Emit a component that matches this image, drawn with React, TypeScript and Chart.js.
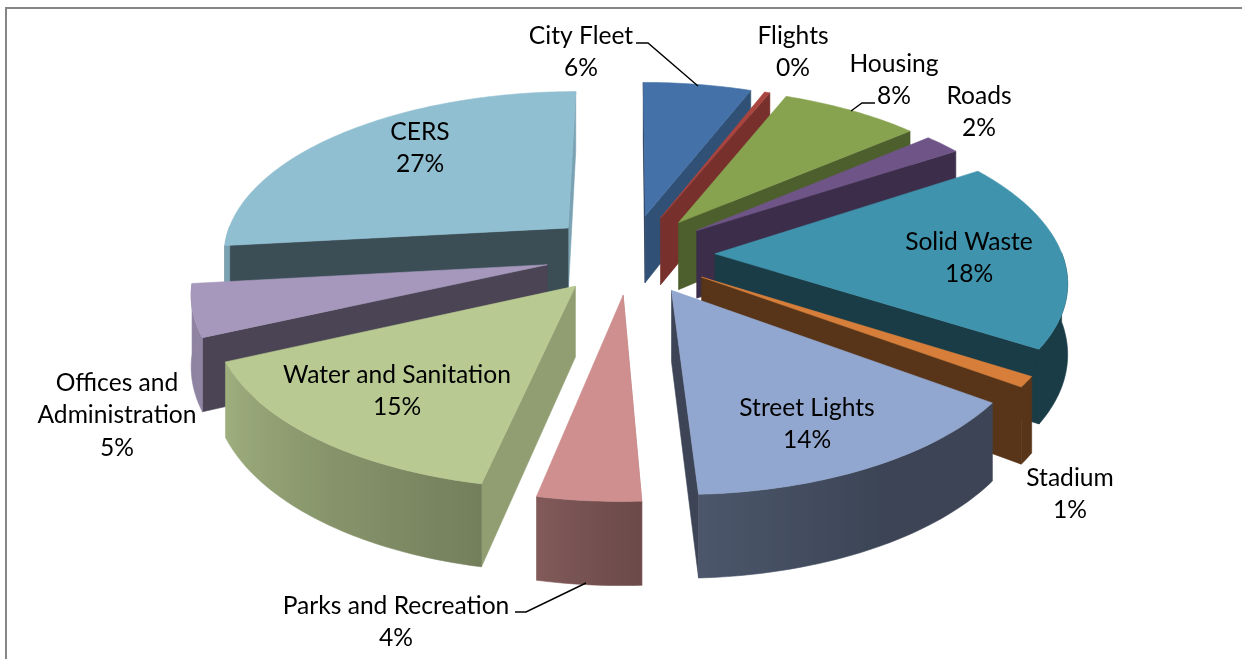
import React, { useEffect, useRef } from "react";
import { Chart, registerables } from "chart.js";

Chart.register(...registerables);

const categories = ["City Fleet", "Flights", "Housing", "Roads", "Solid Waste", "Stadium", "Street Lights", "Parks and Recreation", "Water and Sanitation", "Offices and Administration", "CERS"];
const shares = [5.9, 0.3, 7.6, 2, 18.3, 1, 14.2, 4, 15, 5, 26.8];
const sliceColors = ["#4471a7", "#a9443f", "#87a34f", "#6f5488", "#3f93ac", "#d77f3a", "#92a7cf", "#ce8f8e", "#b8ca92", "#a698bc", "#91bfd2"];
const explode = [85, 85, 85, 85, 85, 85, 85, 85, 85, 85, 85];
const labelLines = [["City Fleet"], ["Flights"], ["Housing"], ["Roads"], ["Solid Waste"], ["Stadium"], ["Street Lights"], ["Parks and Recreation"], ["Water and Sanitation"], ["Offices and", "Administration"], ["CERS"]];
const labelCentres = [[581, 36], [793, 36], [894, 64], [979, 96], [969, 242], [1070, 478], [807, 408], [396, 606], [397, 375], [117, 383], [420, 132]];
const leaderLines = [
  [[636, 43], [648, 43], [698, 86]],
  [[875, 103], [862, 103], [851, 111]],
  [[515, 612], [526, 612], [586, 583]],
];

const CX = 630, CY = 254, K = 0.47, D = 2400, R = 347, H = 69;
const FONT = '24.6px Lato, "Open Sans", sans-serif';
const LINE = 32.5;

const project = (u: number, v: number, z: number): [number, number] => {
  const s = 1 / (1 - v / D);
  return [CX + u * s, CY + (v * K + z) * s];
};

const lookup = (table: number[][], x: number) => {
  if (x <= table[0][0]) return table[0][1];
  for (let i = 1; i < table.length; i++) {
    if (x <= table[i][0]) {
      const t = (x - table[i - 1][0]) / (table[i][0] - table[i - 1][0]);
      return table[i - 1][1] + t * (table[i][1] - table[i - 1][1]);
    }
  }
  return table[table.length - 1][1];
};
const flatShade = [[90, 0.85], [102, 0.78], [111, 0.71], [142, 0.57], [149, 0.53], [157, 0.43], [173, 0.41], [270, 0.41]];
const curvedShade = [[90, 0.41], [150, 0.41], [178, 0.52], [192, 0.63], [247, 0.87], [263, 0.85], [360, 0.85]];

const shade = (hex: string, f: number) => {
  const n = parseInt(hex.slice(1), 16);
  return `rgb(${Math.round(((n >> 16) & 255) * f)},${Math.round(((n >> 8) & 255) * f)},${Math.round((n & 255) * f)})`;
};
const norm = (deg: number) => ((deg % 360) + 360) % 360;

const fillPoly = (ctx: CanvasRenderingContext2D, pts: [number, number][], color: any) => {
  ctx.beginPath();
  pts.forEach((p, i) => (i ? ctx.lineTo(p[0], p[1]) : ctx.moveTo(p[0], p[1])));
  ctx.closePath();
  ctx.fillStyle = color;
  ctx.strokeStyle = color;
  ctx.lineWidth = 0.6;
  ctx.fill();
  ctx.stroke();
};

const pie3d = {
  id: "pie3d",
  beforeDatasetDraw(chart: any) {
    const ctx: CanvasRenderingContext2D = chart.ctx;
    const arcs = chart.getDatasetMeta(0).data;
    const slices = arcs.map((el: any, i: number) => {
      const a0 = el.startAngle, a1 = el.endAngle, mid = (a0 + a1) / 2;
      const off = el.options.offset;
      return { i, a0, a1, mid, tu: off * Math.cos(mid), tv: off * Math.sin(mid) };
    });
    slices.sort((p: any, q: any) => p.tv - q.tv);
    for (const s of slices) {
      const color = sliceColors[s.i];
      const pt = (a: number, z: number) => project(s.tu + R * Math.cos(a), s.tv + R * Math.sin(a), z);
      const tip = (z: number) => project(s.tu, s.tv, z);
      const steps = Math.max(2, Math.ceil(((s.a1 - s.a0) * 180) / Math.PI));
      const angles: number[] = [];
      for (let k = 0; k <= steps; k++) angles.push(s.a0 + ((s.a1 - s.a0) * k) / steps);

      const flatWalls: { v: number; draw: () => void }[] = [];
      for (const [edge, dir] of [[s.a0, -1], [s.a1, 1]] as [number, number][]) {
        const normalDeg = norm((edge * 180) / Math.PI + 90 + dir * 90);
        if (Math.sin(edge + (dir * Math.PI) / 2) <= -0.05) continue;
        flatWalls.push({
          v: s.tv + (R / 2) * Math.sin(edge),
          draw: () => fillPoly(ctx, [tip(0), pt(edge, 0), pt(edge, H), tip(H)], shade(color, lookup(flatShade, normalDeg))),
        });
      }
      flatWalls.sort((p, q) => p.v - q.v).forEach((w) => w.draw());

      const front = angles.filter((a) => Math.sin(a) >= -0.01);
      if (front.length > 1) {
        const stops = front.map((a) => ({ x: pt(a, H)[0], f: lookup(curvedShade, norm((a * 180) / Math.PI + 90)) })).sort((p, q) => p.x - q.x);
        const x0 = stops[0].x, x1 = stops[stops.length - 1].x;
        const grad = ctx.createLinearGradient(x0, 0, Math.max(x1, x0 + 1), 0);
        stops.forEach((st) => grad.addColorStop(Math.min(1, Math.max(0, (st.x - x0) / Math.max(x1 - x0, 1))), shade(color, st.f)));
        fillPoly(ctx, [...front.map((a) => pt(a, 0)), ...[...front].reverse().map((a) => pt(a, H))], grad);
      }

      fillPoly(ctx, [tip(0), ...angles.map((a) => pt(a, 0))], color);
    }
    return false;
  },
  afterDraw(chart: any) {
    const ctx: CanvasRenderingContext2D = chart.ctx;
    ctx.save();
    ctx.strokeStyle = "#868686";
    ctx.lineWidth = 2;
    ctx.beginPath();
    ctx.moveTo(6, 659);
    ctx.lineTo(6, 8);
    ctx.lineTo(1242, 8);
    ctx.stroke();
    ctx.strokeStyle = "#000";
    ctx.lineWidth = 1.4;
    for (const l of leaderLines) {
      ctx.beginPath();
      l.forEach((p, i) => (i ? ctx.lineTo(p[0], p[1]) : ctx.moveTo(p[0], p[1])));
      ctx.stroke();
    }
    const total = shares.reduce((a, b) => a + b, 0);
    ctx.fillStyle = "#000";
    ctx.font = FONT;
    ctx.textAlign = "center";
    ctx.textBaseline = "middle";
    categories.forEach((_, i) => {
      const lines = [...labelLines[i], `${Math.round((shares[i] / total) * 100)}%`];
      lines.forEach((t, j) => ctx.fillText(t, labelCentres[i][0], labelCentres[i][1] + j * LINE));
    });
    ctx.restore();
  },
};

export default function App() {
  const ref = useRef<HTMLCanvasElement>(null);
  useEffect(() => {
    const chart = new Chart(ref.current!, {
      type: "pie",
      data: { labels: categories, datasets: [{ data: shares, backgroundColor: sliceColors, offset: explode, borderWidth: 0 }] },
      options: {
        responsive: false,
        animation: false,
        plugins: { legend: { display: false }, tooltip: { enabled: false } },
      },
      plugins: [pie3d],
    } as any);
    return () => chart.destroy();
  }, []);
  return (
    <div style={{ position: "absolute", left: 0, top: 0, width: 1242, height: 659, background: "#fff" }}>
      <canvas ref={ref} width={1242} height={659} style={{ display: "block" }} />
    </div>
  );
}
